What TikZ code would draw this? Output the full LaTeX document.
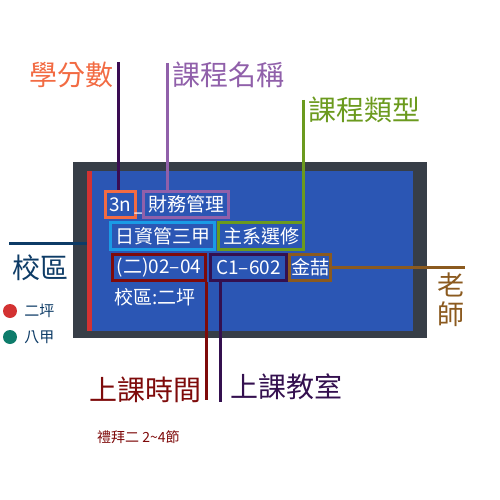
\documentclass[tikz,border=0pt]{standalone}
\usepackage{fontspec}
\setmainfont{Noto Sans CJK TC}
\usepackage{xcolor}
\usepackage{tikz}
\usetikzlibrary{positioning}
\definecolor{framegray}{HTML}{373E47}
\definecolor{cardblue}{HTML}{2B56B4}
\definecolor{barred}{HTML}{D33232}
\definecolor{creditcol}{HTML}{F26B43}
\definecolor{creditline}{HTML}{3A0C52}
\definecolor{namecol}{HTML}{9060AA}
\definecolor{deptcol}{HTML}{1A9BE6}
\definecolor{typecol}{HTML}{6B9A1E}
\definecolor{timecol}{HTML}{7E0A0A}
\definecolor{roomcol}{HTML}{34104F}
\definecolor{teachcol}{HTML}{8B5A1F}
\definecolor{campuscol}{HTML}{0D3B66}
\definecolor{tealcol}{HTML}{0E7C6B}
\tikzstyle{field} = [draw, line width=3pt, inner sep=0, text=white, font=\fontsize{19}{19}\selectfont]
\tikzstyle{tag} = [draw=none, inner sep=0, font=\fontsize{28}{28}\selectfont]
\tikzstyle{lead} = [-, line width=3pt]
\tikzstyle{dot} = [circle, inner sep=0, minimum size=14pt]

\begin{document}
\begin{tikzpicture}[x=1pt, y=-1pt]
\useasboundingbox (0,0) rectangle (500,500);
% card
\fill [framegray] (73,162) rectangle (427,338);
\node [fill=cardblue, inner sep=0, minimum width=326pt, minimum height=160pt] (card) at (250,251) {};
\fill [barred] (card.north west) rectangle ([xshift=5pt]card.south west);
% fields
\node [field, draw=creditcol, minimum width=30pt, minimum height=26pt] (credit) at (120.5,204.5) {3n};
\node [inner sep=0, text=white, font=\fontsize{19}{19}\selectfont] (under) at (140,212.5) {\_};
\node [field, draw=namecol, minimum width=85pt, minimum height=26pt] (course) at (186,204) {財務管理};
\node [field, draw=deptcol, minimum width=104pt, minimum height=27pt] (dept) at (162.5,236) {日資管三甲};
\node [field, draw=typecol, minimum width=85pt, minimum height=27pt] (type) at (261,236) {主系選修};
\node [field, draw=timecol, minimum width=93pt, minimum height=26pt] (time) at (159,267.5) {(二)02–04};
\node [field, draw=roomcol, minimum width=76pt, minimum height=26pt] (room) at (248.5,267.5) {C1–602};
\node [field, draw=teachcol, minimum width=41pt, minimum height=26pt] (teacher) at (310,267.5) {金喆};
\node [field, draw=none, anchor=west] (campus) at (113,297) {校區:二坪};
% labels
\node [tag, text=creditcol, anchor=east] (credittag) at (114,75) {學分數};
\node [tag, text=namecol, anchor=west] (coursetag) at (172,75) {課程名稱};
\node [tag, text=typecol, anchor=west] (typetag) at (308,110) {課程類型};
\node [tag, text=campuscol, anchor=west] (campustag) at (12,268) {校區};
\node [tag, text=teachcol, align=center, font=\fontsize{27}{29}\selectfont] (teachtag) at (451,300) {老\\師};
\node [tag, text=timecol, anchor=east] (timetag) at (202,390) {上課時間};
\node [tag, text=roomcol, anchor=west] (roomtag) at (230,387) {上課教室};
\node [draw=none, inner sep=0, text=timecol, anchor=west, font=\fontsize{14}{14}\selectfont] (timenote) at (97,437) {禮拜二 2\textasciitilde4節};
% legend
\node [dot, fill=barred] (dotA) at (10,311) {};
\node [inner sep=0, text=campuscol, font=\fontsize{15}{15}\selectfont, right=7pt of dotA] (legA) {二坪};
\node [dot, fill=tealcol] (dotB) at (10,337) {};
\node [inner sep=0, text=campuscol, font=\fontsize{15}{15}\selectfont, right=7pt of dotB] (legB) {八甲};
% leaders
\coordinate (creditdrop) at (118,62);
\coordinate (coursedrop) at (167,63);
\coordinate (typedrop) at (303,100);
\coordinate (campusend) at (9,243);
\coordinate (teachend) at (465,266);
\coordinate (timeend) at (206,400);
\coordinate (roomend) at (220,402);
\draw [lead, draw=creditline] (creditdrop) to (creditdrop |- credit.north);
\draw [lead, draw=namecol] (coursedrop) to (coursedrop |- course.north);
\draw [lead, draw=typecol] (typedrop) to (typedrop |- type.north);
\draw [lead, draw=campuscol] (campusend) to (campusend -| card.west);
\draw [lead, draw=teachcol] (teacher.east) to (teacher.east -| teachend);
\draw [lead, draw=timecol] (timeend |- time.south) to (timeend);
\draw [lead, draw=roomcol] (roomend |- room.south) to (roomend);
\end{tikzpicture}
\end{document}
